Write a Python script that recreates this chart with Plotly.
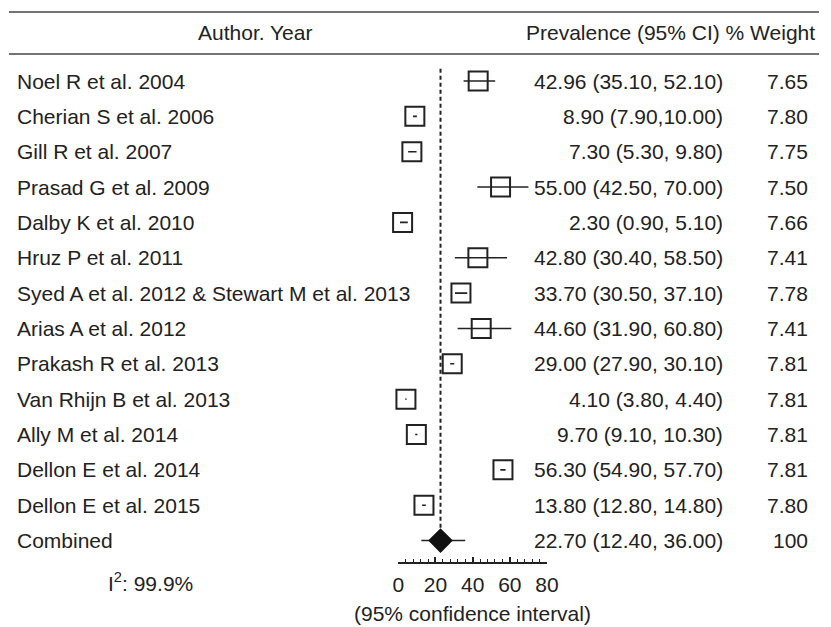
import plotly.graph_objects as go

studies = ["Noel R et al. 2004", "Cherian S et al. 2006", "Gill R et al. 2007",
           "Prasad G et al. 2009", "Dalby K et al. 2010", "Hruz P et al. 2011",
           "Syed A et al. 2012 & Stewart M et al. 2013", "Arias A et al. 2012",
           "Prakash R et al. 2013", "Van Rhijn B et al. 2013", "Ally M et al. 2014",
           "Dellon E et al. 2014", "Dellon E et al. 2015"]
est = [42.96, 8.90, 7.30, 55.00, 2.30, 42.80, 33.70, 44.60, 29.00, 4.10, 9.70, 56.30, 13.80]
lo = [35.10, 7.90, 5.30, 42.50, 0.90, 30.40, 30.50, 31.90, 27.90, 3.80, 9.10, 54.90, 12.80]
hi = [52.10, 10.00, 9.80, 70.00, 5.10, 58.50, 37.10, 60.80, 30.10, 4.40, 10.30, 57.70, 14.80]
ci_labels = ["42.96 (35.10, 52.10)", "8.90 (7.90,10.00)", "7.30 (5.30, 9.80)",
             "55.00 (42.50, 70.00)", "2.30 (0.90, 5.10)", "42.80 (30.40, 58.50)",
             "33.70 (30.50, 37.10)", "44.60 (31.90, 60.80)", "29.00 (27.90, 30.10)",
             "4.10 (3.80, 4.40)", "9.70 (9.10, 10.30)", "56.30 (54.90, 57.70)",
             "13.80 (12.80, 14.80)"]
weights = ["7.65", "7.80", "7.75", "7.50", "7.66", "7.41", "7.78", "7.41", "7.81",
           "7.81", "7.81", "7.81", "7.80"]

comb_label = "Combined"
comb_est, comb_lo, comb_hi = 22.70, 12.40, 36.00
comb_ci_label = "22.70 (12.40, 36.00)"
comb_weight = "100"
i2_text = "I<sup>2</sup>: 99.9%"
x_ticks = [0, 20, 40, 60, 80]

W, H = 831, 627
FONT = "Liberation Sans, Arial, sans-serif"
FS = 21
INK = "#222222"

rows = list(range(len(studies)))
comb_row = len(studies)

def px(xp):
    return xp / W

def py(yp):
    return 1 - yp / H

fig = go.Figure()

# study boxes with CI lines
fig.add_trace(go.Scatter(
    x=est, y=rows, mode="markers",
    marker=dict(symbol="square-open", size=19, color=INK, line=dict(width=2, color=INK)),
    error_x=dict(type="data", symmetric=False,
                 array=[h - e for h, e in zip(hi, est)],
                 arrayminus=[e - l for e, l in zip(est, lo)],
                 width=0, thickness=1.6, color=INK),
    cliponaxis=False, hoverinfo="skip"))

# combined diamond
fig.add_trace(go.Scatter(
    x=[comb_est], y=[comb_row], mode="markers",
    marker=dict(symbol="diamond", size=19, color="#111111", line=dict(width=0)),
    error_x=dict(type="data", symmetric=False, array=[comb_hi - comb_est],
                 arrayminus=[comb_est - comb_lo], width=0, thickness=1.6, color=INK),
    cliponaxis=False, hoverinfo="skip"))

shapes = [
    dict(type="line", xref="x", yref="y", x0=comb_est, x1=comb_est, y0=-0.35, y1=comb_row - 0.3,
         line=dict(color=INK, width=2, dash="4px,3px"), layer="below"),
    dict(type="line", xref="paper", yref="paper", x0=px(3), x1=1, y0=py(12), y1=py(12),
         line=dict(color="#444444", width=1.5)),
    dict(type="line", xref="paper", yref="paper", x0=px(3), x1=1, y0=py(54), y1=py(54),
         line=dict(color="#444444", width=1.5)),
]

ann = []
def txt(text, x, y, anchor, yref="y"):
    ann.append(dict(text=text, x=x, y=y, xref="paper", yref=yref, xanchor=anchor,
                    yanchor="middle", showarrow=False,
                    font=dict(family=FONT, size=FS, color=INK)))

LBL_X, CI_X, WT_X = 9, 735, 822

txt("Author. Year", px(255), py(33), "center", "paper")
txt("Prevalence (95% CI) % Weight", px(829), py(33), "right", "paper")

for r, s, c, w in zip(rows, studies, ci_labels, weights):
    txt(s, px(LBL_X), r, "left")
    txt(c, px(CI_X), r, "right")
    txt(w, px(WT_X), r, "right")

txt(comb_label, px(LBL_X), comb_row, "left")
txt(comb_ci_label, px(CI_X), comb_row, "right")
txt(comb_weight, px(WT_X), comb_row, "right")
txt(i2_text, px(148), py(582), "center", "paper")
txt("(95% confidence interval)", px(477), py(613), "center", "paper")

y_top_px, y_axis_px = 0, 562
row0_px, row_step = 81, 35.35
r_top = (y_top_px - row0_px) / row_step
r_bot = (y_axis_px - row0_px) / row_step

fig.update_layout(
    width=W, height=H, margin=dict(l=0, r=0, t=0, b=0),
    paper_bgcolor="white", plot_bgcolor="white", showlegend=False,
    shapes=shapes, annotations=ann,
    xaxis=dict(domain=[px(401), px(553)], range=[0, 80], showgrid=False, zeroline=False,
               showline=True, linecolor=INK, linewidth=1.5,
               tickvals=x_ticks, ticks="inside", ticklen=5, tickwidth=1.5, tickcolor=INK,
               ticklabelstandoff=3,
               minor=dict(dtick=4, ticks="inside", ticklen=3, tickwidth=1, tickcolor=INK),
               tickfont=dict(family=FONT, size=FS, color=INK), fixedrange=True),
    yaxis=dict(domain=[1 - y_axis_px / H, 1], range=[r_bot, r_top], visible=False,
               fixedrange=True),
)

fig.write_html("out.html", config={"displayModeBar": False},
               post_script="document.body.style.margin='0';document.body.style.overflow='hidden';")
